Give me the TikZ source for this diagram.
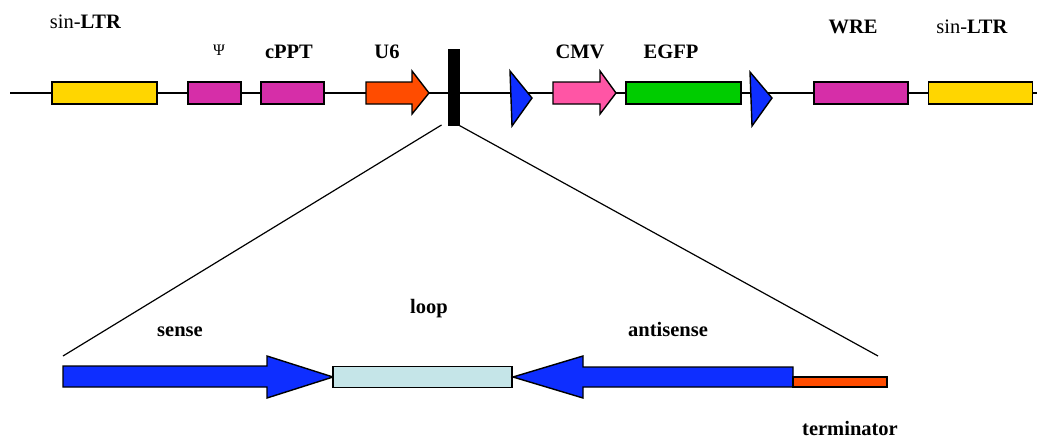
\documentclass[tikz,border=0pt]{standalone}
\usepackage{fontspec}
\setmainfont{Liberation Serif}
\begin{document}
\begin{tikzpicture}[x=1pt,y=-1pt,
  part/.style={draw=black,line width=1.4pt,inner sep=0pt,outer sep=0pt,minimum height=22pt},
  shp/.style={draw=black,line width=1.4pt,line join=miter},
  lbl/.style={font=\fontsize{20.5}{24}\selectfont\bfseries,anchor=base,inner sep=0pt},
  lblr/.style={font=\fontsize{20.5}{24}\selectfont,anchor=base,inner sep=0pt},
  wire/.style={draw=black,line width=1.2pt}]
\definecolor{cyel}{RGB}{255,214,0}
\definecolor{cmag}{RGB}{214,46,168}
\definecolor{cora}{RGB}{255,76,0}
\definecolor{cblu}{RGB}{14,46,255}
\definecolor{cpnk}{RGB}{255,85,165}
\definecolor{cgrn}{RGB}{0,204,0}
\definecolor{clop}{RGB}{197,229,232}
\useasboundingbox (0,0) rectangle (1037,439);
% backbone
\coordinate (bbL) at (10,93);
\coordinate (bbR) at (1037,93);
\draw[wire] (bbL) -- (bbR);
% parts on backbone
\node[part,fill=cyel,minimum width=105pt] (ltrA) at (104.5,93) {};
\node[part,fill=cmag,minimum width=53pt] (psi) at (214.5,93) {};
\node[part,fill=cmag,minimum width=63pt] (cppt) at (292.5,93) {};
\draw[shp,fill=cora] (366,82) -- (412,82) -- (412,71) -- (429,93) -- (412,114) -- (412,104) -- (366,104) -- cycle;
\coordinate (u6) at (397,93);
\node[draw=black,fill=black,inner sep=0pt,outer sep=0pt,minimum width=11pt,minimum height=76pt] (bar) at (454,87) {};
\draw[shp,fill=cblu] (510,71) -- (532,98) -- (512,126) -- cycle;
\draw[shp,fill=cpnk] (553,82) -- (600,82) -- (600,71) -- (616,93) -- (600,114) -- (600,104) -- (553,104) -- cycle;
\node[part,fill=cgrn,minimum width=115pt] (egfp) at (683.5,93) {};
\draw[shp,fill=cblu] (750,72) -- (772,98) -- (752,126) -- cycle;
\node[part,fill=cmag,minimum width=94pt] (wre) at (861,93) {};
\node[part,fill=cyel,minimum width=104pt] (ltrB) at (980.5,93) {};
% top labels
\node[lblr] at (85.5,28) {sin-\textbf{LTR}};
\node[lblr,font=\fontsize{16}{18}\selectfont] at (219,55) {Ψ};
\node[lbl] at (289,58) {cPPT};
\node[lbl] at (387,58) {U6};
\node[lbl] at (580,58) {CMV};
\node[lbl] at (671,58) {EGFP};
\node[lbl] at (853,34) {WRE};
\node[lblr] at (972,34) {sin-\textbf{LTR}};
% zoom lines
\coordinate (zL) at (63,356);
\coordinate (zR) at (878,356);
\draw[wire] (bar.south west) ++(-7,0) coordinate (bL) -- (zL);
\draw[wire] (bar.south east) ++(-1,0) coordinate (bR) -- (zR);
% hairpin
\draw[shp,fill=cblu] (63,366) -- (267,366) -- (267,356) -- (333,377) -- (267,398) -- (267,387) -- (63,387) -- cycle;
\node[part,fill=clop,minimum width=179pt,minimum height=21pt] (loop) at (422.5,377) {};
\draw[shp,fill=cblu] (513,377) -- (583,356) -- (583,367) -- (793,367) -- (793,387) -- (583,387) -- (583,398) -- cycle;
\node[draw=black,line width=1.4pt,fill=cora,inner sep=0pt,outer sep=0pt,minimum width=94pt,minimum height=10pt] (term) at (840,382) {};
% bottom labels
\node[lbl] at (180,336) {sense};
\node[lbl] at (429,313) {loop};
\node[lbl] at (668,336) {antisense};
\node[lbl] at (850,435) {terminator};
\end{tikzpicture}
\end{document}
